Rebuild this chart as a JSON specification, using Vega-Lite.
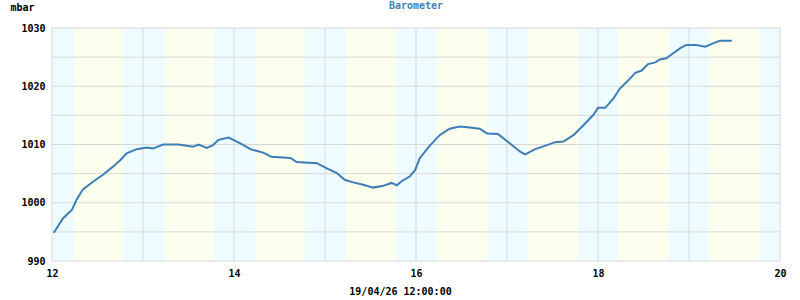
{
  "$schema": "https://vega.github.io/schema/vega-lite/v6.json",
  "width": 728,
  "height": 233,
  "autosize": "none",
  "padding": {"left": 52, "top": 28, "right": 20, "bottom": 39},
  "background": "white",
  "title": {"text": "Barometer", "anchor": "middle", "offset": -9, "font": "DejaVu Sans Mono", "fontSize": 10, "fontWeight": "bold", "color": "#4682B4"},
  "config": {"view": {"stroke": null}},
  "datasets": {
    "bands": [
      {"start": 12.0, "end": 12.25, "kind": "night"},
      {"start": 12.25, "end": 12.78, "kind": "day"},
      {"start": 12.78, "end": 13.24, "kind": "night"},
      {"start": 13.24, "end": 13.78, "kind": "day"},
      {"start": 13.78, "end": 14.24, "kind": "night"},
      {"start": 14.24, "end": 14.78, "kind": "day"},
      {"start": 14.78, "end": 15.23, "kind": "night"},
      {"start": 15.23, "end": 15.78, "kind": "day"},
      {"start": 15.78, "end": 16.23, "kind": "night"},
      {"start": 16.23, "end": 16.78, "kind": "day"},
      {"start": 16.78, "end": 17.23, "kind": "night"},
      {"start": 17.23, "end": 17.78, "kind": "day"},
      {"start": 17.78, "end": 18.22, "kind": "night"},
      {"start": 18.22, "end": 18.78, "kind": "day"},
      {"start": 18.78, "end": 19.22, "kind": "night"},
      {"start": 19.22, "end": 19.78, "kind": "day"},
      {"start": 19.78, "end": 20.0, "kind": "night"}
    ],
    "xgrid": [{"d": 12}, {"d": 13}, {"d": 14}, {"d": 15}, {"d": 16}, {"d": 17}, {"d": 18}, {"d": 19}, {"d": 20}],
    "ygrid": [{"v": 990}, {"v": 995}, {"v": 1000}, {"v": 1005}, {"v": 1010}, {"v": 1015}, {"v": 1020}, {"v": 1025}, {"v": 1030}],
    "pressure": [
      {"day": 12.02, "mbar": 994.85},
      {"day": 12.12, "mbar": 997.3},
      {"day": 12.22, "mbar": 998.8},
      {"day": 12.27, "mbar": 1000.5},
      {"day": 12.34, "mbar": 1002.3},
      {"day": 12.45, "mbar": 1003.6},
      {"day": 12.56, "mbar": 1004.8},
      {"day": 12.67, "mbar": 1006.2},
      {"day": 12.75, "mbar": 1007.3},
      {"day": 12.82, "mbar": 1008.5},
      {"day": 12.93, "mbar": 1009.2},
      {"day": 13.04, "mbar": 1009.5},
      {"day": 13.11, "mbar": 1009.3},
      {"day": 13.22, "mbar": 1010.0},
      {"day": 13.39, "mbar": 1010.0},
      {"day": 13.55, "mbar": 1009.6},
      {"day": 13.61, "mbar": 1010.0},
      {"day": 13.7, "mbar": 1009.4},
      {"day": 13.77, "mbar": 1009.9},
      {"day": 13.83, "mbar": 1010.8},
      {"day": 13.94, "mbar": 1011.2},
      {"day": 14.03, "mbar": 1010.5},
      {"day": 14.07, "mbar": 1010.2},
      {"day": 14.18, "mbar": 1009.2},
      {"day": 14.32, "mbar": 1008.6},
      {"day": 14.41, "mbar": 1007.9},
      {"day": 14.62, "mbar": 1007.7},
      {"day": 14.69, "mbar": 1007.0},
      {"day": 14.91, "mbar": 1006.8},
      {"day": 15.02, "mbar": 1005.9},
      {"day": 15.13, "mbar": 1005.1},
      {"day": 15.22, "mbar": 1003.9},
      {"day": 15.31, "mbar": 1003.5},
      {"day": 15.42, "mbar": 1003.1},
      {"day": 15.53, "mbar": 1002.6},
      {"day": 15.64, "mbar": 1002.9},
      {"day": 15.73, "mbar": 1003.4},
      {"day": 15.79, "mbar": 1003.0},
      {"day": 15.84, "mbar": 1003.7},
      {"day": 15.93, "mbar": 1004.5},
      {"day": 15.99, "mbar": 1005.6},
      {"day": 16.04, "mbar": 1007.6},
      {"day": 16.14, "mbar": 1009.6},
      {"day": 16.26, "mbar": 1011.6},
      {"day": 16.37, "mbar": 1012.7},
      {"day": 16.48, "mbar": 1013.1},
      {"day": 16.59, "mbar": 1012.9},
      {"day": 16.7, "mbar": 1012.7},
      {"day": 16.78, "mbar": 1011.9},
      {"day": 16.9, "mbar": 1011.8},
      {"day": 17.03, "mbar": 1010.2},
      {"day": 17.14, "mbar": 1008.8},
      {"day": 17.2, "mbar": 1008.3},
      {"day": 17.31, "mbar": 1009.2},
      {"day": 17.44, "mbar": 1009.9},
      {"day": 17.53, "mbar": 1010.4},
      {"day": 17.62, "mbar": 1010.5},
      {"day": 17.73, "mbar": 1011.6},
      {"day": 17.84, "mbar": 1013.3},
      {"day": 17.95, "mbar": 1015.1},
      {"day": 18.0, "mbar": 1016.3},
      {"day": 18.08, "mbar": 1016.3},
      {"day": 18.17, "mbar": 1017.9},
      {"day": 18.24, "mbar": 1019.6},
      {"day": 18.32, "mbar": 1020.8},
      {"day": 18.41, "mbar": 1022.3},
      {"day": 18.48, "mbar": 1022.7},
      {"day": 18.55, "mbar": 1023.8},
      {"day": 18.63, "mbar": 1024.1},
      {"day": 18.68, "mbar": 1024.6},
      {"day": 18.75, "mbar": 1024.8},
      {"day": 18.83, "mbar": 1025.7},
      {"day": 18.9, "mbar": 1026.5},
      {"day": 18.97, "mbar": 1027.1},
      {"day": 19.08, "mbar": 1027.1},
      {"day": 19.18, "mbar": 1026.8},
      {"day": 19.27, "mbar": 1027.4},
      {"day": 19.34, "mbar": 1027.8},
      {"day": 19.47, "mbar": 1027.8}
    ]
  },
  "layer": [
    {
      "data": {"name": "bands"},
      "mark": {"type": "rect"},
      "encoding": {
        "x": {"field": "start", "type": "quantitative", "scale": {"domain": [12, 20], "nice": false, "zero": false},
          "axis": {"values": [12,14,16,18,20], "format": "d", "grid": false, "domain": false, "ticks": false,
            "labelFont": "DejaVu Sans Mono", "labelFontSize": 10, "labelFontWeight": "bold", "labelColor": "black", "labelPadding": 7, "labelFlush": false,
            "title": "19/04/26 12:00:00", "titleFont": "DejaVu Sans Mono", "titleFontSize": 10, "titleFontWeight": "bold", "titleColor": "black", "titleX": 348, "titleY": 33, "titleAlign": "center", "titleBaseline": "alphabetic"}},
        "x2": {"field": "end"},
        "color": {"field": "kind", "type": "nominal", "scale": {"domain": ["night", "day"], "range": ["#EEFCFF", "#FDFFEE"]}, "legend": null}
      }
    },
    {
      "data": {"name": "xgrid"},
      "mark": {"type": "rule", "color": "#D8D8D8", "strokeWidth": 1},
      "encoding": {"x": {"field": "d", "type": "quantitative"}}
    },
    {
      "data": {"name": "ygrid"},
      "mark": {"type": "rule", "color": "#D8D8D8", "strokeWidth": 1},
      "encoding": {"y": {"field": "v", "type": "quantitative"}}
    },
    {
      "data": {"name": "pressure"},
      "mark": {"type": "line", "color": "#3D7DB6", "strokeWidth": 2},
      "encoding": {
        "x": {"field": "day", "type": "quantitative"},
        "y": {"field": "mbar", "type": "quantitative", "scale": {"domain": [990, 1030], "nice": false, "zero": false},
          "axis": {"values": [990,1000,1010,1020,1030], "format": "d", "grid": false, "domain": false, "ticks": false,
            "labelFont": "DejaVu Sans Mono", "labelFontSize": 10, "labelFontWeight": "bold", "labelColor": "black", "labelPadding": 7, "labelFlush": false,
            "title": "mbar", "titleFont": "DejaVu Sans Mono", "titleFontSize": 10, "titleFontWeight": "bold", "titleColor": "black", "titleAngle": 0, "titleX": -42, "titleY": -18, "titleAlign": "left", "titleBaseline": "alphabetic"}}
      }
    }
  ]
}
